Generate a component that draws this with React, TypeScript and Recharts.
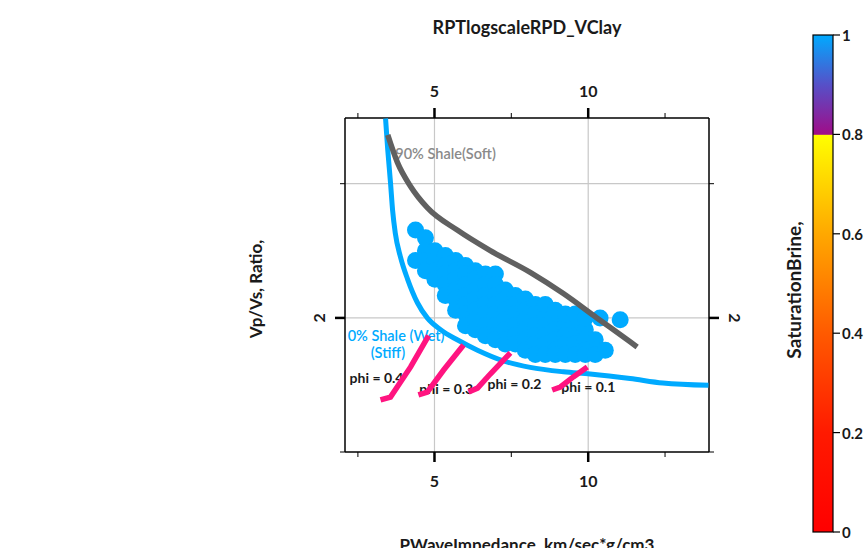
import React from 'react';
import { ScatterChart, Scatter, XAxis, YAxis, CartesianGrid } from 'recharts';

// axes (log scale)
const impedanceDomain = [3.34, 17.24];
const impedanceTicks = [3.54, 5, 7.07, 10, 14.14];
const impedanceLabels = [5, 10];
const ratioDomain = [1.414, 3.354];
const ratioTicks = [1.414, 2, 2.83];
const ratioLabels = [2];
const gridX = [5, 10];
const gridY = [2, 2.83];

// 0% shale wet (stiff) trend
const stiffX = [4.01, 4.05, 4.1, 4.14, 4.19, 4.29, 4.43, 4.63, 4.84, 5.14, 5.54, 6.07, 6.82, 7.7, 8.94, 10.09, 12.08, 14.0, 17.2];
const stiffY = [3.35, 3.09, 2.84, 2.64, 2.49, 2.34, 2.21, 2.08, 2.0, 1.94, 1.89, 1.84, 1.79, 1.76, 1.74, 1.73, 1.71, 1.69, 1.68];

// 90% shale (soft) trend
const softX = [4.05, 4.23, 4.49, 4.84, 5.54, 6.43, 7.7, 8.94, 10.4, 12.08, 12.47];
const softY = [3.21, 2.99, 2.81, 2.66, 2.51, 2.38, 2.25, 2.13, 2.0, 1.88, 1.855];

// porosity lines
const phi04X = [3.92, 4.1, 4.49, 4.87];
const phi04Y = [1.618, 1.63, 1.762, 1.91];
const phi03X = [4.65, 4.84, 5.21, 5.7];
const phi03Y = [1.639, 1.651, 1.748, 1.865];
const phi02X = [5.83, 6.07, 6.43, 7.04];
const phi02Y = [1.651, 1.668, 1.73, 1.827];
const phi01X = [8.5, 8.82, 9.35, 9.96];
const phi01Y = [1.66, 1.673, 1.717, 1.762];

const phiLabels = ['phi = 0.4', 'phi = 0.3', 'phi = 0.2', 'phi = 0.1'];
const phiLabelX = [3.41, 4.67, 6.35, 8.86];
const phiLabelY = [1.713, 1.668, 1.69, 1.673];

const curveLabels = ['90% Shale(Soft)', '0% Shale (Wet)', '(Stiff)'];
const curveLabelX = [4.19, 3.38, 3.75];
const curveLabelY = [3.06, 1.91, 1.83];
const curveLabelColor = ['#8a8a8a', '#00aaff', '#00aaff'];

// well data cloud (brine saturated, all ~1.0)
const cloudColumnX = [4.59, 4.8, 5.01, 5.25, 5.5, 5.75, 6.01, 6.29, 6.58, 6.88, 7.2, 7.53, 7.88, 8.24, 8.62, 9.02, 9.43, 9.87, 10.32, 10.8];
const cloudColumnY = [
  [2.51, 2.32],
  [2.46, 2.38, 2.32, 2.26],
  [2.38, 2.32, 2.26, 2.21],
  [2.35, 2.29, 2.24, 2.18, 2.12],
  [2.32, 2.26, 2.21, 2.15, 2.1, 2.04],
  [2.29, 2.24, 2.18, 2.12, 2.07, 2.02, 1.96],
  [2.26, 2.21, 2.15, 2.1, 2.04, 1.99, 1.94],
  [2.24, 2.18, 2.12, 2.07, 2.02, 1.96, 1.91],
  [2.24, 2.18, 2.12, 2.07, 2.02, 1.96, 1.91, 1.89],
  [2.15, 2.1, 2.04, 1.99, 1.94, 1.89, 1.87],
  [2.12, 2.07, 2.02, 1.96, 1.91, 1.87],
  [2.1, 2.04, 1.99, 1.94, 1.89, 1.84],
  [2.07, 2.02, 1.96, 1.91, 1.87, 1.82],
  [2.02, 1.96, 1.91, 1.87, 1.82],
  [1.99, 1.94, 1.89, 1.84, 1.82],
  [1.96, 1.91, 1.87, 1.82],
  [1.96, 1.91, 1.87, 1.82],
  [1.94, 1.89, 1.84, 1.82],
  [1.89, 1.84, 1.82],
  [1.84],
];
const cloudStrayX = [8.24, 8.62, 9.02, 9.43, 9.87, 10.55, 11.55];
const cloudStrayY = [2.07, 2.04, 2.02, 2.02, 2.0, 2.0, 1.99];

// colour bar
const satTicks = [0, 0.2, 0.4, 0.6, 0.8, 1];
const satTickLabels = ['0', '0.2', '0.4', '0.6', '0.8', '1'];

const FONT = 'Lato, "Open Sans", sans-serif';
const BLUE = '#00aaff';
const PINK = '#ff1480';

const rows = (xs: number[], ys: number[]) => xs.map((x, i) => ({ x, y: ys[i] }));

const cloud = [
  ...cloudColumnX.flatMap((x, i) => cloudColumnY[i].map((y) => ({ x, y }))),
  ...rows(cloudStrayX, cloudStrayY),
];
const phiText = phiLabels.map((label, i) => ({ x: phiLabelX[i], y: phiLabelY[i], label }));
const curveText = curveLabels.map((label, i) => ({ x: curveLabelX[i], y: curveLabelY[i], label, color: curveLabelColor[i] }));

const NoDot = () => <g />;
const Dot = (p: any) => <circle cx={p.cx} cy={p.cy} r={8.5} fill={BLUE} />;
const PhiText = (p: any) => (
  <text x={p.cx} y={p.cy} dominantBaseline="central" fontFamily={FONT} fontWeight={700} fontSize={14} fill="#1a1a1a">
    {p.payload.label}
  </text>
);
const CurveText = (p: any) => (
  <text x={p.cx} y={p.cy} dominantBaseline="central" fontFamily={FONT} fontWeight={600} fontSize={14.5} fill={p.payload.color}>
    {p.payload.label}
  </text>
);

const XTick = ({ x, y, payload, top }: any) => {
  const major = impedanceLabels.includes(payload.value);
  const d = top ? -1 : 1;
  return (
    <g>
      <line x1={x} x2={x} y1={y} y2={y + d * (major ? 10 : 5)} stroke="#000" strokeWidth={major ? 2.5 : 1} />
      {major && (
        <text x={x} y={y + d * 28} textAnchor="middle" dominantBaseline="central" fontFamily={FONT} fontWeight={700} fontSize={16} fill="#1a1a1a">
          {payload.value}
        </text>
      )}
    </g>
  );
};

const YTick = ({ x, y, payload, right }: any) => {
  const major = ratioLabels.includes(Math.round(payload.value * 1000) / 1000);
  const d = right ? 1 : -1;
  const tx = x + d * 26;
  return (
    <g>
      <line x1={x} x2={x + d * (major ? 10 : 5)} y1={y} y2={y} stroke="#000" strokeWidth={major ? 2.5 : 1} />
      {major && (
        <text x={tx} y={y} textAnchor="middle" dominantBaseline="central" transform={`rotate(${right ? 90 : -90} ${tx} ${y})`} fontFamily={FONT} fontWeight={700} fontSize={16} fill="#1a1a1a">
          {payload.value}
        </text>
      )}
    </g>
  );
};

function ColorBar() {
  const x = 813;
  const top = 35;
  const h = 497;
  return (
    <g>
      <defs>
        <linearGradient id="satGrad" x1="0" y1="1" x2="0" y2="0">
          <stop offset="0" stopColor="#ff0000" />
          <stop offset="0.2" stopColor="#ff1a00" />
          <stop offset="0.4" stopColor="#ff5a00" />
          <stop offset="0.6" stopColor="#ffa800" />
          <stop offset="0.799" stopColor="#ffff00" />
          <stop offset="0.8" stopColor="#a00c88" />
          <stop offset="0.9" stopColor="#5650c8" />
          <stop offset="1" stopColor="#00aaff" />
        </linearGradient>
      </defs>
      <rect x={x} y={top} width={20} height={h} fill="url(#satGrad)" stroke="#000" strokeWidth={1.2} />
      {satTicks.map((v, i) => {
        const ty = top + h - v * h;
        return (
          <g key={v}>
            <line x1={x + 20} x2={x + 27} y1={ty} y2={ty} stroke="#000" strokeWidth={1.2} />
            <text x={x + 29} y={ty} dominantBaseline="central" fontFamily={FONT} fontWeight={700} fontSize={15} fill="#1a1a1a">
              {satTickLabels[i]}
            </text>
          </g>
        );
      })}
    </g>
  );
}

export default function App() {
  return (
    <div style={{ position: 'fixed', left: 0, top: 0, width: 866, height: 548, background: '#fff', overflow: 'hidden' }}>
      <svg width={866} height={548} style={{ position: 'absolute', left: 0, top: 0 }}>
        <text x={527} y={27} textAnchor="middle" dominantBaseline="central" fontFamily={FONT} fontWeight={700} fontSize={18} fill="#1a1a1a">
          RPTlogscaleRPD_VClay
        </text>
        <text x={527} y={551} textAnchor="middle" fontFamily={FONT} fontWeight={700} fontSize={17} fill="#1a1a1a">
          PWaveImpedance, km/sec*g/cm3
        </text>
        <text x={255} y={289} textAnchor="middle" dominantBaseline="central" transform="rotate(-90 255 289)" fontFamily={FONT} fontWeight={700} fontSize={17} fill="#1a1a1a">
          Vp/Vs, Ratio,
        </text>
        <text x={793} y={290} textAnchor="middle" dominantBaseline="central" transform="rotate(-90 793 290)" fontFamily={FONT} fontWeight={700} fontSize={19} fill="#1a1a1a">
          SaturationBrine,
        </text>
        <ColorBar />
      </svg>
      <div style={{ position: 'absolute', left: 0, top: 0 }}>
        <ScatterChart width={866} height={548} margin={{ top: 88, right: 117, bottom: 66, left: 305 }}>
          <CartesianGrid xAxisId="b" yAxisId="l" stroke="#c8c8c8" strokeWidth={1.2} verticalValues={gridX} horizontalValues={gridY} />
          <XAxis xAxisId="b" orientation="bottom" dataKey="x" type="number" scale="log" domain={impedanceDomain} allowDataOverflow ticks={impedanceTicks} height={30} tickSize={0} tickMargin={0} axisLine={{ stroke: '#000', strokeWidth: 1.5 }} tick={<XTick />} interval={0} />
          <XAxis xAxisId="t" orientation="top" dataKey="x" type="number" scale="log" domain={impedanceDomain} allowDataOverflow ticks={impedanceTicks} height={30} tickSize={0} tickMargin={0} axisLine={{ stroke: '#000', strokeWidth: 1.5 }} tick={<XTick top />} interval={0} />
          <YAxis yAxisId="l" orientation="left" dataKey="y" type="number" scale="log" domain={ratioDomain} allowDataOverflow ticks={ratioTicks} width={40} tickSize={0} tickMargin={0} axisLine={{ stroke: '#000', strokeWidth: 1.5 }} tick={<YTick />} interval={0} />
          <YAxis yAxisId="r" orientation="right" dataKey="y" type="number" scale="log" domain={ratioDomain} allowDataOverflow ticks={ratioTicks} width={40} tickSize={0} tickMargin={0} axisLine={{ stroke: '#000', strokeWidth: 1.5 }} tick={<YTick right />} interval={0} />

          <Scatter xAxisId="b" yAxisId="l" data={curveText} shape={CurveText} isAnimationActive={false} />
          <Scatter xAxisId="b" yAxisId="l" data={phiText} shape={PhiText} isAnimationActive={false} />
          <Scatter xAxisId="b" yAxisId="l" data={cloud} shape={Dot} isAnimationActive={false} />
          <Scatter xAxisId="b" yAxisId="l" data={rows(stiffX, stiffY)} shape={NoDot} line={{ stroke: BLUE, strokeWidth: 5 }} lineJointType="monotoneX" isAnimationActive={false} />
          <Scatter xAxisId="b" yAxisId="l" data={rows(softX, softY)} shape={NoDot} line={{ stroke: '#606060', strokeWidth: 5.5 }} lineJointType="monotoneX" isAnimationActive={false} />
          <Scatter xAxisId="b" yAxisId="l" data={rows(phi04X, phi04Y)} shape={NoDot} line={{ stroke: PINK, strokeWidth: 5.5 }} isAnimationActive={false} />
          <Scatter xAxisId="b" yAxisId="l" data={rows(phi03X, phi03Y)} shape={NoDot} line={{ stroke: PINK, strokeWidth: 5.5 }} isAnimationActive={false} />
          <Scatter xAxisId="b" yAxisId="l" data={rows(phi02X, phi02Y)} shape={NoDot} line={{ stroke: PINK, strokeWidth: 5.5 }} isAnimationActive={false} />
          <Scatter xAxisId="b" yAxisId="l" data={rows(phi01X, phi01Y)} shape={NoDot} line={{ stroke: PINK, strokeWidth: 5.5 }} isAnimationActive={false} />
        </ScatterChart>
      </div>
    </div>
  );
}
